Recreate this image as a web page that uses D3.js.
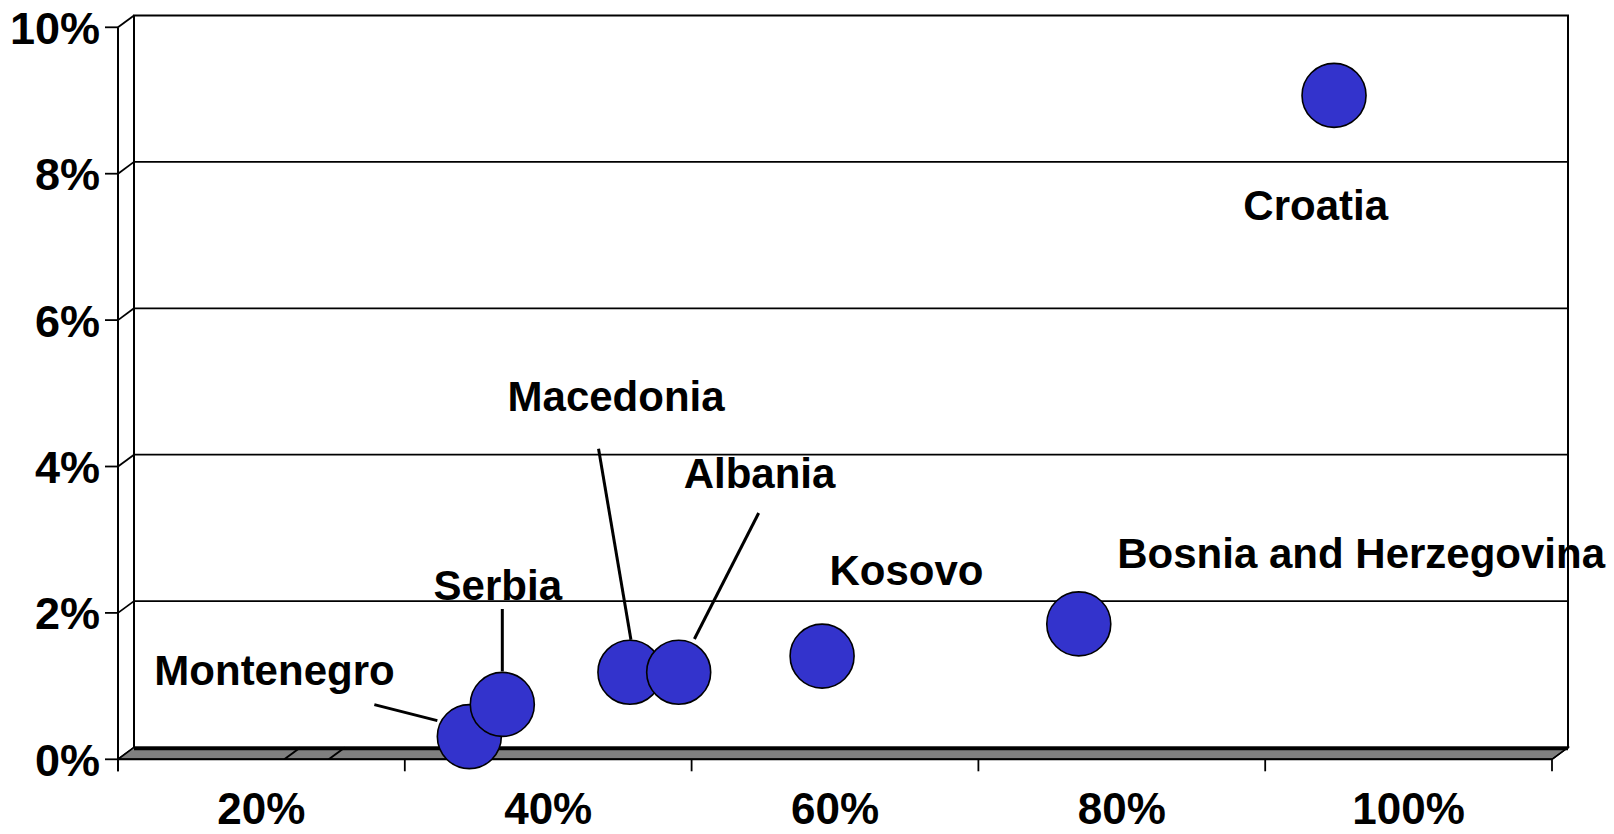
<!DOCTYPE html>
<html>
<head>
<meta charset="utf-8">
<script src="https://cdn.jsdelivr.net/npm/d3@7"></script>
<style>
  html, body { margin: 0; padding: 0; background: #fff; }
  svg { display: block; }
  text { font-family: "Liberation Sans", Arial, sans-serif; font-weight: bold; fill: #000; }
</style>
</head>
<body>
<svg id="chart" width="1614" height="834"></svg>
<script>
// ---- data ----
const countries = ["Montenegro", "Serbia", "Macedonia", "Albania", "Kosovo", "Bosnia and Herzegovina", "Croatia"];
const xValues   = [34.5, 36.8, 45.7, 49.1, 59.1, 77.0, 94.8];   // % (horizontal)
const yValues   = [0.31, 0.75, 1.19, 1.19, 1.41, 1.85, 9.07];   // % (vertical)
const xTickLabels = ["20%", "40%", "60%", "80%", "100%"];
const xTickLabelValues = [20, 40, 60, 80, 100];
const xTickLineValues = [10, 30, 50, 70, 90, 110];
const yTickValues = [0, 2, 4, 6, 8, 10];
const yTickLabels = ["0%", "2%", "4%", "6%", "8%", "10%"];
const floorMarkValues = [21.6, 24.7];

// ---- layout (annotation offsets relative to bubble centres, px) ----
const labelLayout = {
  "Montenegro":             { lx: -315,  ly: -51.5, leader: [[-95, -32], [-32, -16]] },
  "Serbia":                 { lx: -68.7, ly: -104.7, leader: [[0, -95.4], [0, -33]] },
  "Macedonia":              { lx: -122.4, ly: -260.8, leader: [[-31.4, -223.5], [1, -32.5]] },
  "Albania":                { lx: 5,     ly: -184.2, leader: [[80, -159.2], [15.7, -33.2]] },
  "Kosovo":                 { lx: 7.3,   ly: -71.3, leader: null },
  "Bosnia and Herzegovina": { lx: 38.5,  ly: -55.7, leader: null },
  "Croatia":                { lx: -90.7, ly: 124.3, leader: null }
};

const svg = d3.select("#chart");
const x = d3.scaleLinear().domain([10, 110]).range([118, 1552]);
const y = d3.scaleLinear().domain([0, 10]).range([759.3, 27.3]);
const DX = 16, DY = -11.8;

const x0 = x.domain()[0], x1 = x.domain()[1];
const y0 = y.domain()[0], y1 = y.domain()[1];

// back wall
svg.append("rect")
  .attr("x", x(x0) + DX).attr("y", y(y1) + DY)
  .attr("width", x(x1) - x(x0)).attr("height", y(y0) - y(y1))
  .attr("fill", "#fff").attr("stroke", "#000").attr("stroke-width", 2);

// gridlines on back wall
svg.append("g").selectAll("line").data(yTickValues.filter(v => v > y0 && v < y1)).join("line")
  .attr("x1", x(x0) + DX).attr("x2", x(x1) + DX)
  .attr("y1", d => y(d) + DY).attr("y2", d => y(d) + DY)
  .attr("stroke", "#000").attr("stroke-width", 1.8);

// side wall diagonals
svg.append("g").selectAll("line").data(yTickValues).join("line")
  .attr("x1", x(x0)).attr("y1", d => y(d))
  .attr("x2", x(x0) + DX).attr("y2", d => y(d) + DY)
  .attr("stroke", "#000").attr("stroke-width", 1.8);

// floor
const floorPts = [[x(x0), y(y0)], [x(x1), y(y0)], [x(x1) + DX, y(y0) + DY], [x(x0) + DX, y(y0) + DY]];
svg.append("polygon")
  .attr("points", floorPts.map(p => p.join(",")).join(" "))
  .attr("fill", "#808080").attr("stroke", "#000").attr("stroke-width", 1.5);
svg.append("line")
  .attr("x1", x(x0) + DX).attr("x2", x(x1) + DX)
  .attr("y1", y(y0) + DY + 1).attr("y2", y(y0) + DY + 1)
  .attr("stroke", "#000").attr("stroke-width", 3.5);
svg.append("line")
  .attr("x1", x(x0)).attr("x2", x(x1))
  .attr("y1", y(y0)).attr("y2", y(y0))
  .attr("stroke", "#000").attr("stroke-width", 2);
svg.append("g").selectAll("line").data(floorMarkValues).join("line")
  .attr("x1", d => x(d)).attr("y1", y(y0))
  .attr("x2", d => x(d) + DX).attr("y2", y(y0) + DY)
  .attr("stroke", "#000").attr("stroke-width", 2);

// right wall edge
svg.append("line")
  .attr("x1", x(x1)).attr("y1", y(y0))
  .attr("x2", x(x1) + DX).attr("y2", y(y0) + DY)
  .attr("stroke", "#000").attr("stroke-width", 1.5);

// front vertical axis line
svg.append("line")
  .attr("x1", x(x0)).attr("x2", x(x0))
  .attr("y1", y(y1)).attr("y2", y(y0) + 12)
  .attr("stroke", "#000").attr("stroke-width", 2);

// y ticks and labels
const yAxis = svg.append("g");
yAxis.selectAll("line").data(yTickValues).join("line")
  .attr("x1", x(x0) - 13).attr("x2", x(x0))
  .attr("y1", d => y(d)).attr("y2", d => y(d))
  .attr("stroke", "#000").attr("stroke-width", 1.8);
yAxis.selectAll("text").data(yTickValues).join("text")
  .attr("x", x(x0) - 18).attr("y", d => y(d) + 16.5)
  .attr("text-anchor", "end").attr("font-size", 45)
  .text((d, i) => yTickLabels[i]);

// x ticks and labels
const xAxis = svg.append("g");
xAxis.selectAll("line").data(xTickLineValues).join("line")
  .attr("x1", d => x(d)).attr("x2", d => x(d))
  .attr("y1", y(y0)).attr("y2", y(y0) + 12)
  .attr("stroke", "#000").attr("stroke-width", 1.8);
xAxis.selectAll("text").data(xTickLabelValues).join("text")
  .attr("x", d => x(d)).attr("y", y(y0) + 65)
  .attr("text-anchor", "middle").attr("font-size", 44)
  .text((d, i) => xTickLabels[i]);

// points
const pts = countries.map((c, i) => ({ name: c, cx: x(xValues[i]), cy: y(yValues[i]) }));

// leader lines
svg.append("g").selectAll("line").data(pts.filter(p => labelLayout[p.name].leader)).join("line")
  .attr("x1", p => p.cx + labelLayout[p.name].leader[0][0])
  .attr("y1", p => p.cy + labelLayout[p.name].leader[0][1])
  .attr("x2", p => p.cx + labelLayout[p.name].leader[1][0])
  .attr("y2", p => p.cy + labelLayout[p.name].leader[1][1])
  .attr("stroke", "#000").attr("stroke-width", 3);

// bubbles
svg.append("g").selectAll("circle").data(pts).join("circle")
  .attr("cx", p => p.cx).attr("cy", p => p.cy).attr("r", 32)
  .attr("fill", "#3333cc").attr("stroke", "#000").attr("stroke-width", 1.6);

// labels
svg.append("g").selectAll("text").data(pts).join("text")
  .attr("x", p => p.cx + labelLayout[p.name].lx)
  .attr("y", p => p.cy + labelLayout[p.name].ly)
  .attr("font-size", 42)
  .text(p => p.name);
</script>
</body>
</html>
